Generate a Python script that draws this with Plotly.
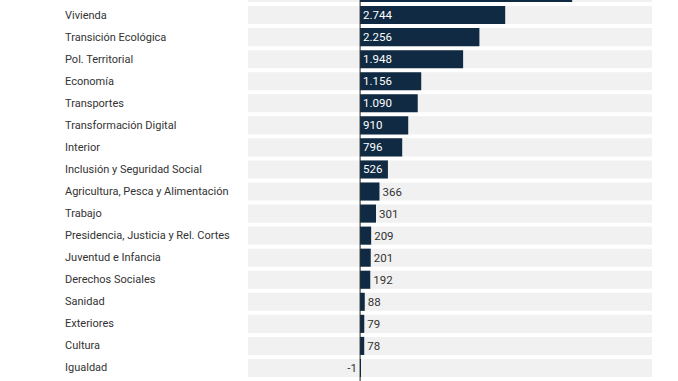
import plotly.graph_objects as go

categories = [
    "Industria y Turismo", "Vivienda", "Transición Ecológica", "Pol. Territorial", "Economía",
    "Transportes", "Transformación Digital", "Interior", "Inclusión y Seguridad Social",
    "Agricultura, Pesca y Alimentación", "Trabajo", "Presidencia, Justicia y Rel. Cortes",
    "Juventud e Infancia", "Derechos Sociales", "Sanidad", "Exteriores", "Cultura", "Igualdad",
]
values = [4010, 2744, 2256, 1948, 1156, 1090, 910, 796, 526, 366, 301, 209, 201, 192, 88, 79, 78, -1]

W, H = 678, 381
XMIN, XMAX = -2120, 5520
BAR = "#0f2a42"
BAND = "#f1f1f1"
TXT = "#333333"

positions = ["inside" if v >= 500 else "outside" for v in values]

fig = go.Figure()
fig.add_trace(go.Bar(
    y=categories, x=[XMAX - XMIN] * len(categories), base=[XMIN] * len(categories),
    orientation="h", marker=dict(color=BAND, line=dict(width=0)),
    hoverinfo="skip", showlegend=False,
))
fig.add_trace(go.Bar(
    y=categories, x=values, orientation="h",
    marker=dict(color=BAR, line=dict(width=0)),
    texttemplate="%{x:,}", textposition=positions,
    insidetextanchor="start", constraintext="none",
    insidetextfont=dict(color="white", size=11.5, family="Roboto"),
    outsidetextfont=dict(color=TXT, size=11.5, family="Roboto"),
    cliponaxis=True, showlegend=False,
))

for c in categories:
    fig.add_annotation(
        x=63 / W, xref="paper", y=c, yref="y", text=c, showarrow=False,
        xanchor="left", yanchor="middle",
        font=dict(family="Roboto", size=11, color=TXT),
    )

fig.add_shape(type="line", xref="x", yref="paper", x0=0, x1=0, y0=0, y1=1,
              line=dict(color="#222222", width=1), layer="above")

fig.update_layout(
    width=W, height=H,
    margin=dict(l=0, r=0, t=0, b=0),
    paper_bgcolor="white", plot_bgcolor="white",
    barmode="overlay", bargap=0.18,
    separators=",.",
    font=dict(family="Roboto", size=11, color=TXT),
    xaxis=dict(domain=[248 / W, 652 / W], range=[XMIN, XMAX], visible=False,
               showgrid=False, zeroline=False),
    yaxis=dict(range=[17.59, 0.317], showticklabels=False, showgrid=False,
               zeroline=False, ticks=""),
)

fig.write_html("out.html", config={"displayModeBar": False},
               post_script="document.body.style.margin='0';")
